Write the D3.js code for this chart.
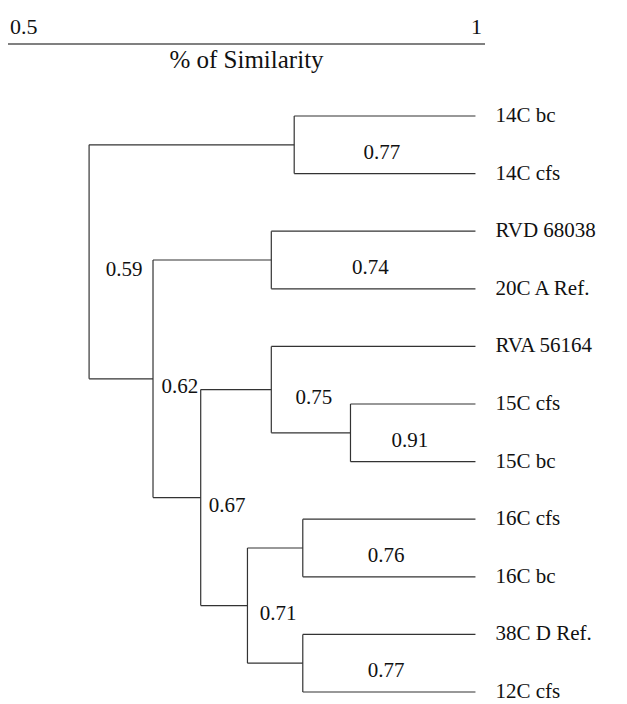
<!DOCTYPE html>
<html>
<head>
<meta charset="utf-8">
<script src="https://cdn.jsdelivr.net/npm/d3@7"></script>
<style>
  body { margin: 0; background: #fff; }
</style>
</head>
<body>
<svg id="chart" width="627" height="704"></svg>
<script>
// leaves, top to bottom
const leaves = ["14C bc", "14C cfs", "RVD 68038", "20C A Ref.", "RVA 56164",
  "15C cfs", "15C bc", "16C cfs", "16C bc", "38C D Ref.", "12C cfs"];

// clusters (children, printed similarity, where the join sits on the axis)
const clusterIds = ["c14", "cRVD", "c15", "cRVA", "c16", "c38", "c71", "c67", "c62", "root"];
const clusterChildren = [
  ["14C bc", "14C cfs"], ["RVD 68038", "20C A Ref."], ["15C cfs", "15C bc"],
  ["RVA 56164", "c15"], ["16C cfs", "16C bc"], ["38C D Ref.", "12C cfs"],
  ["c16", "c38"], ["cRVA", "c71"], ["cRVD", "c67"], ["c14", "c62"]
];
const clusterSimilarity = [0.77, 0.74, 0.91, 0.75, 0.76, 0.77, 0.71, 0.67, 0.62, 0.59];
const clusterAxisPos = [0.80, 0.776, 0.859, 0.776, 0.809, 0.809, 0.751, 0.702, 0.652, 0.585];

const axisTicks = [0.5, 1];
const axisTitle = "% of Similarity";
const leafEnd = 0.99;

const FONT = "'Liberation Serif', 'Times New Roman', Times, serif";

const svg = d3.select("#chart")
  .attr("font-family", FONT);

const x = d3.scaleLinear().domain([0.5, 1]).range([8, 485]);
const y = d3.scalePoint().domain(leaves).range([116, 692]);

// --- build tree ---
function buildNode(id) {
  const i = clusterIds.indexOf(id);
  if (i < 0) return { name: id };
  return {
    name: id,
    sim: clusterSimilarity[i],
    pos: clusterAxisPos[i],
    children: clusterChildren[i].map(buildNode)
  };
}
const root = d3.hierarchy(buildNode("root"));

// positions: leaves on point scale, joins at children mean
root.eachAfter(d => {
  if (!d.children) {
    d.px = x(leafEnd);
    d.py = y(d.data.name);
  } else {
    d.px = x(d.data.pos);
    d.py = d3.mean(d.children, c => c.py);
  }
});

// --- axis ---
svg.append("line")
  .attr("x1", x(0.5)).attr("x2", x(1))
  .attr("y1", 44).attr("y2", 44)
  .attr("stroke", "#808080").attr("stroke-width", 2);

svg.selectAll(".tick")
  .data(axisTicks)
  .enter()
  .append("text")
  .attr("class", "tick")
  .attr("x", d => d === 1 ? x(d) - 3 : x(d) + 2)
  .attr("y", 34)
  .attr("text-anchor", d => d === 1 ? "end" : "start")
  .attr("font-size", 22)
  .attr("fill", "#111")
  .text(d => d);

svg.append("text")
  .attr("x", (x(0.5) + x(1)) / 2)
  .attr("y", 68)
  .attr("text-anchor", "middle")
  .attr("font-size", 25)
  .attr("fill", "#111")
  .text(axisTitle);

// --- dendrogram lines ---
const inner = root.descendants().filter(d => d.children);
const g = svg.append("g")
  .attr("stroke", "#333")
  .attr("stroke-width", 1.2)
  .attr("fill", "none");

inner.forEach(d => {
  const ys = d.children.map(c => c.py);
  g.append("line")
    .attr("x1", d.px).attr("x2", d.px)
    .attr("y1", d3.min(ys)).attr("y2", d3.max(ys));
  d.children.forEach(c => {
    g.append("line")
      .attr("x1", d.px).attr("x2", c.px)
      .attr("y1", c.py).attr("y2", c.py);
  });
});

// similarity labels, placed right of each join
svg.selectAll(".sim")
  .data(inner)
  .enter()
  .append("text")
  .attr("class", "sim")
  .attr("x", d => {
    const onlyLeaves = d.children.every(c => !c.children);
    return (d.px + d3.min(d.children, c => c.px)) / 2 + (onlyLeaves ? -3 : 3);
  })
  .attr("y", d => d.py + 14)
  .attr("text-anchor", "middle")
  .attr("font-size", 21)
  .attr("fill", "#111")
  .text(d => d.data.sim.toFixed(2));

// leaf labels
svg.selectAll(".leaf")
  .data(root.leaves())
  .enter()
  .append("text")
  .attr("class", "leaf")
  .attr("x", d => d.px + 20)
  .attr("y", d => d.py + 6)
  .attr("font-size", 21)
  .attr("fill", "#111")
  .text(d => d.data.name);
</script>
</body>
</html>
